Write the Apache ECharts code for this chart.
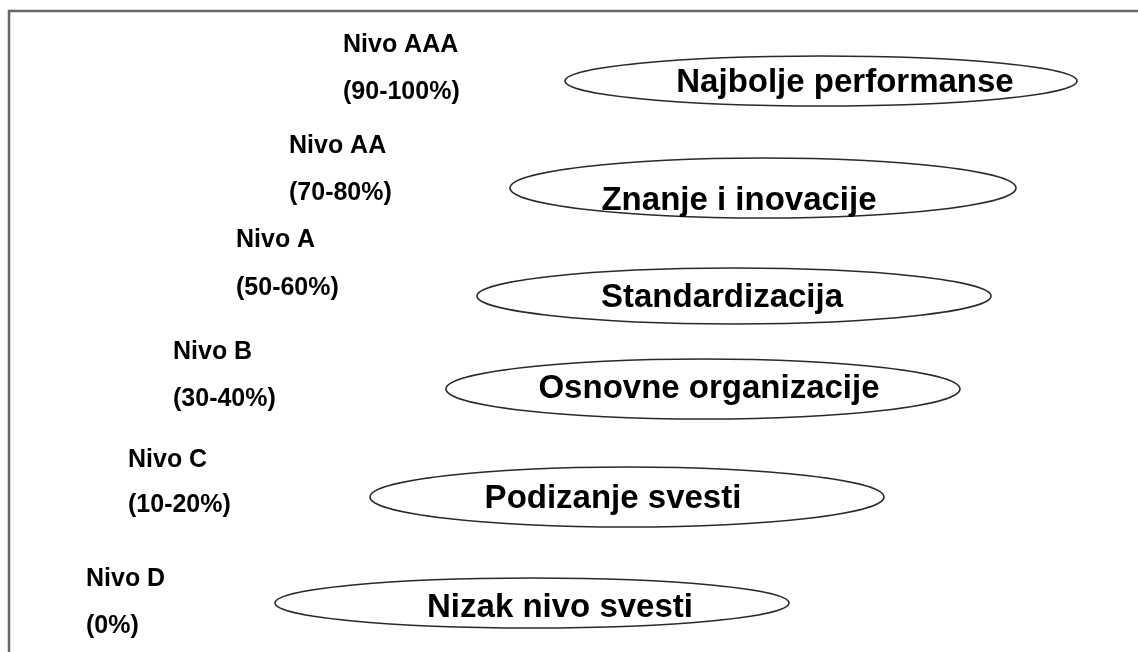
<!DOCTYPE html>
<html>
<head>
<meta charset="utf-8">
<script src="https://cdn.jsdelivr.net/npm/echarts@6/dist/echarts.min.js"></script>
<style>
html,body{margin:0;padding:0;background:#fff;}
#chart{width:1138px;height:652px;}
</style>
</head>
<body>
<div id="chart"></div>
<script>
// ---- Data ----
const levelNames = ['Nivo AAA', 'Nivo AA', 'Nivo A', 'Nivo B', 'Nivo C', 'Nivo D'];
const levelRanges = ['(90-100%)', '(70-80%)', '(50-60%)', '(30-40%)', '(10-20%)', '(0%)'];
const stageNames = ['Najbolje performanse', 'Znanje i inovacije', 'Standardizacija', 'Osnovne organizacije', 'Podizanje svesti', 'Nizak nivo svesti'];

// ---- Layout (diagram geometry, in axis units) ----
const labelX   = [343, 289, 236, 173, 128, 86];
const nameY    = [45, 146, 240, 352, 460, 579];
const rangeY   = [92, 193, 288, 399, 505, 626];
const ellCX    = [821, 763, 734, 703, 627, 532];
const ellCY    = [81, 188, 296, 389, 497, 603];
const ellRX    = [256, 253, 257, 257, 257, 257];
const ellRY    = [25, 30, 28, 30, 30, 25];
const textCX   = [845, 739, 722, 709, 613, 560];
const textCY   = [83, 201, 298, 389, 499, 608];

const FONT = '"Liberation Sans", Arial, sans-serif';

const chart = echarts.init(document.getElementById('chart'), null, {renderer: 'canvas'});

const option = {
  backgroundColor: '#ffffff',
  animation: false,
  grid: {left: 0, right: 0, top: 0, bottom: 0},
  xAxis: {type: 'value', min: 0, max: 1138, show: false},
  yAxis: {type: 'value', min: 0, max: 652, inverse: true, show: false},
  series: [
    {
      // frame
      type: 'custom',
      data: [[0]],
      silent: true,
      renderItem: function (params, api) {
        const p0 = api.coord([9, 652]);
        const p1 = api.coord([9, 11]);
        const p2 = api.coord([1138, 11]);
        return {
          type: 'polyline',
          shape: {points: [p0, p1, p2]},
          style: {stroke: '#666666', lineWidth: 2.5, fill: null}
        };
      }
    },
    {
      type: 'custom',
      silent: true,
      data: stageNames.map((s, i) => [i]),
      renderItem: function (params, api) {
        const i = api.value(0);
        const c = api.coord([ellCX[i], ellCY[i]]);
        const sz = api.size([ellRX[i], ellRY[i]]);
        const t = api.coord([textCX[i], textCY[i]]);
        const n = api.coord([labelX[i], nameY[i]]);
        const r = api.coord([labelX[i], rangeY[i]]);
        return {
          type: 'group',
          children: [
            {
              type: 'ellipse',
              shape: {cx: c[0], cy: c[1], rx: sz[0], ry: sz[1]},
              style: {fill: '#ffffff', stroke: '#2a2a2a', lineWidth: 1.6}
            },
            {
              type: 'text',
              style: {
                x: t[0], y: t[1], text: stageNames[i],
                font: 'bold 33px ' + FONT, fill: '#000',
                align: 'center', verticalAlign: 'middle'
              }
            },
            {
              type: 'text',
              style: {
                x: n[0], y: n[1], text: levelNames[i],
                font: 'bold 25px ' + FONT, fill: '#000',
                align: 'left', verticalAlign: 'middle'
              }
            },
            {
              type: 'text',
              style: {
                x: r[0], y: r[1], text: levelRanges[i],
                font: 'bold 25px ' + FONT, fill: '#000',
                align: 'left', verticalAlign: 'middle'
              }
            }
          ]
        };
      }
    }
  ]
};
chart.setOption(option);
</script>
</body>
</html>
